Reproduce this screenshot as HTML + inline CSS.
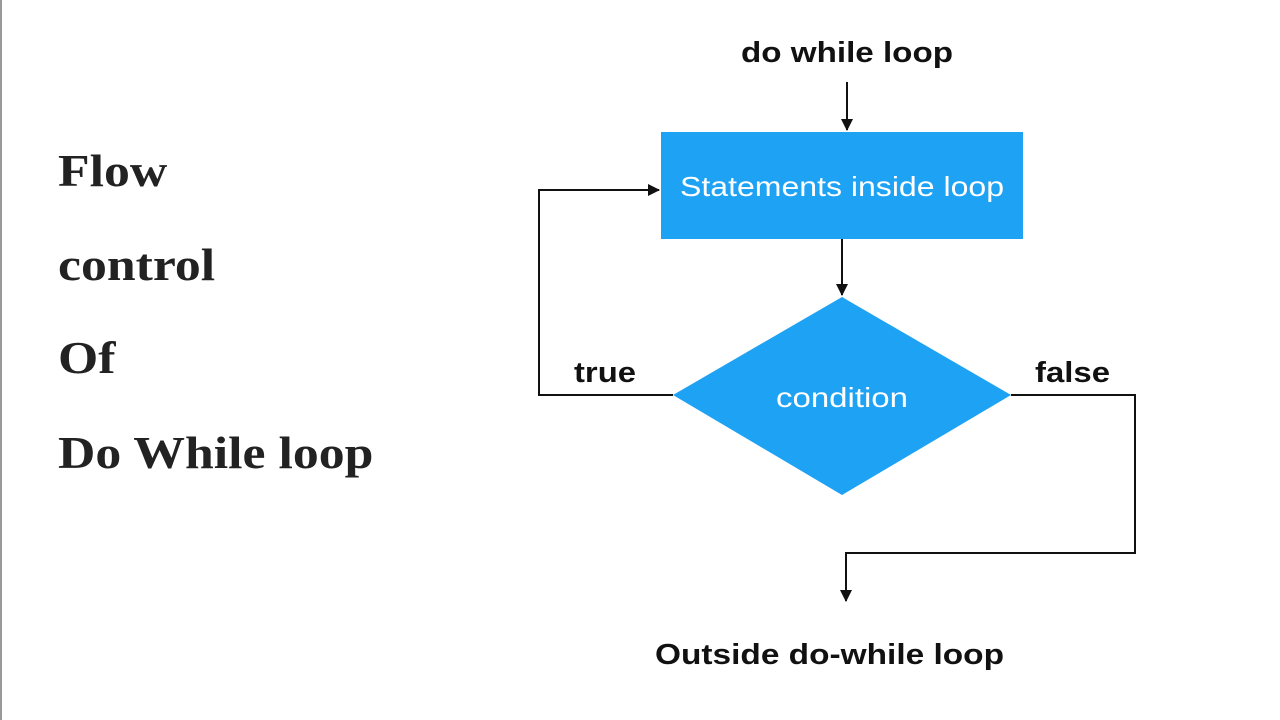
<!DOCTYPE html>
<html><head><style>
body{margin:0;width:1280px;height:720px;background:#fff;position:relative;overflow:hidden}
.l{position:absolute;left:58px;font-family:"Liberation Serif",serif;font-weight:bold;font-size:45px;color:#222;line-height:1;transform:scaleX(1.15);transform-origin:left top;white-space:nowrap}
</style></head><body>
<div style="position:absolute;left:0;top:0;width:2px;height:720px;background:#999"></div>
<div class="l" style="top:149px">Flow</div>
<div class="l" style="top:243px">control</div>
<div class="l" style="top:336px">Of</div>
<div class="l" style="top:431px">Do While loop</div>
<svg width="1280" height="720" style="position:absolute;left:0;top:0" font-family="Liberation Sans, sans-serif">
<defs><marker id="a" markerWidth="12" markerHeight="12" refX="11" refY="6" orient="auto" markerUnits="userSpaceOnUse"><path d="M0,0 L12,6 L0,12 z" fill="#111"/></marker></defs>
<text x="741" y="62" textLength="212" lengthAdjust="spacingAndGlyphs" font-size="29" font-weight="bold" fill="#111">do while loop</text>
<line x1="847" y1="82" x2="847" y2="130" stroke="#111" stroke-width="2" marker-end="url(#a)"/>
<rect x="661" y="132" width="362" height="107" fill="#1ea2f4"/>
<text x="680" y="196" textLength="324" lengthAdjust="spacingAndGlyphs" font-size="28" fill="#fff">Statements inside loop</text>
<line x1="842" y1="239" x2="842" y2="295" stroke="#111" stroke-width="2" marker-end="url(#a)"/>
<polygon points="842,297 1011,395 842,495 673,395" fill="#1ea2f4"/>
<text x="776" y="407" textLength="132" lengthAdjust="spacingAndGlyphs" font-size="28" fill="#fff">condition</text>
<polyline points="673,395 539,395 539,190 659,190" fill="none" stroke="#111" stroke-width="2" marker-end="url(#a)"/>
<polyline points="1011,395 1135,395 1135,553 846,553 846,601" fill="none" stroke="#111" stroke-width="2" marker-end="url(#a)"/>
<text x="574" y="382" textLength="62" lengthAdjust="spacingAndGlyphs" font-size="29" font-weight="bold" fill="#111">true</text>
<text x="1035" y="382" textLength="75" lengthAdjust="spacingAndGlyphs" font-size="29" font-weight="bold" fill="#111">false</text>
<text x="655" y="664" textLength="349" lengthAdjust="spacingAndGlyphs" font-size="29" font-weight="bold" fill="#111">Outside do-while loop</text>
</svg>
</body></html>
